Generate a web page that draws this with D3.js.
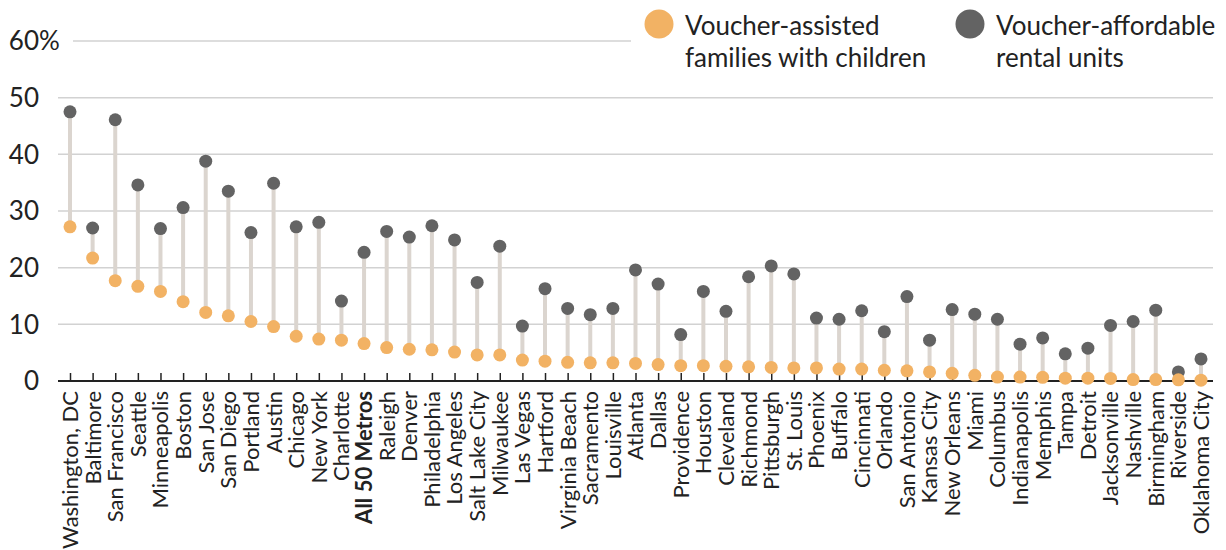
<!DOCTYPE html>
<html>
<head>
<meta charset="utf-8">
<script src="https://cdn.jsdelivr.net/npm/d3@7"></script>
<style>
  body { margin: 0; background: #fff; }
  text { font-family: Lato, "Open Sans", sans-serif; fill: #222; }
</style>
</head>
<body>
<div id="main"></div>
<script>
var metros = ["Washington, DC", "Baltimore", "San Francisco", "Seattle", "Minneapolis", "Boston", "San Jose", "San Diego",
  "Portland", "Austin", "Chicago", "New York", "Charlotte", "All 50 Metros", "Raleigh", "Denver", "Philadelphia",
  "Los Angeles", "Salt Lake City", "Milwaukee", "Las Vegas", "Hartford", "Virginia Beach", "Sacramento", "Louisville",
  "Atlanta", "Dallas", "Providence", "Houston", "Cleveland", "Richmond", "Pittsburgh", "St. Louis", "Phoenix", "Buffalo",
  "Cincinnati", "Orlando", "San Antonio", "Kansas City", "New Orleans", "Miami", "Columbus", "Indianapolis", "Memphis",
  "Tampa", "Detroit", "Jacksonville", "Nashville", "Birmingham", "Riverside", "Oklahoma City"];
var families = [27.2, 21.7, 17.7, 16.7, 15.8, 14.0, 12.1, 11.5, 10.5, 9.6, 7.9, 7.4, 7.2, 6.6, 5.9, 5.6, 5.5,
  5.1, 4.6, 4.6, 3.7, 3.5, 3.3, 3.2, 3.2, 3.1, 2.9, 2.7, 2.7, 2.6, 2.5, 2.4, 2.3, 2.3, 2.1,
  2.1, 1.9, 1.8, 1.6, 1.35, 1.0, 0.7, 0.7, 0.65, 0.5, 0.5, 0.45, 0.25, 0.25, 0.2, 0.15];
var units = [47.5, 27.0, 46.1, 34.6, 26.9, 30.6, 38.8, 33.5, 26.2, 34.9, 27.2, 28.0, 14.1, 22.7, 26.4, 25.4, 27.4,
  24.9, 17.4, 23.8, 9.7, 16.3, 12.8, 11.7, 12.8, 19.6, 17.1, 8.2, 15.8, 12.3, 18.4, 20.3, 18.9, 11.1, 10.9,
  12.4, 8.7, 14.9, 7.2, 12.6, 11.8, 10.9, 6.5, 7.6, 4.8, 5.8, 9.8, 10.5, 12.5, 1.6, 3.9];
var yTicks = [0, 10, 20, 30, 40, 50, 60];
var legendItems = [["Voucher-assisted", "families with children"], ["Voucher-affordable", "rental units"]];

var data = metros.map(function(d, i) { return {name: d, fam: families[i], units: units[i]}; });
var orange = "#f2b264", grey = "#636363";

var svg = d3.select("#main").append("svg")
  .attr("width", 1226)
  .attr("height", 550);

var x = d3.scalePoint().domain(metros).range([70, 1201]);
var y = d3.scaleLinear().domain([0, 60]).range([381, 41]);

// gridlines
svg.append("g").selectAll("line").data(yTicks.filter(function(t) { return t > 0; })).enter().append("line")
  .attr("x1", function(t) { return t == 60 ? 73 : 58; })
  .attr("x2", function(t) { return t == 60 ? 631 : 1213; })
  .attr("y1", y).attr("y2", y)
  .attr("stroke", "#d2d2d2")
  .attr("stroke-width", 1.5);

// y labels
svg.append("g").selectAll("text").data(yTicks).enter().append("text")
  .attr("x", 39)
  .attr("y", y)
  .attr("dy", "0.36em")
  .attr("text-anchor", "end")
  .style("font-size", "26px")
  .text(function(t) { return t; });
svg.append("text")
  .attr("x", 39)
  .attr("y", y(60))
  .attr("dy", "0.36em")
  .style("font-size", "26px")
  .text("%");

// baseline axis with ticks pointing up
var xAxis = d3.axisTop(x).tickSize(8).tickFormat("");
var axisG = svg.append("g")
  .attr("transform", "translate(0," + y(0) + ")")
  .call(xAxis);
axisG.select(".domain").remove();
axisG.selectAll(".tick line").attr("stroke", "#222").attr("stroke-width", 1.5);
svg.append("line")
  .attr("x1", 58).attr("x2", 1213)
  .attr("y1", y(0)).attr("y2", y(0))
  .attr("stroke", "#222")
  .attr("stroke-width", 2);

// metro labels
svg.append("g").selectAll("text").data(data).enter().append("text")
  .attr("transform", function(d) { return "translate(" + x(d.name) + ",391) rotate(-90)"; })
  .attr("dy", "0.36em")
  .attr("text-anchor", "end")
  .style("font-size", "22px")
  .style("font-weight", function(d) { return d.name == "All 50 Metros" ? "bold" : null; })
  .text(function(d) { return d.name; });

// stems
svg.append("g").selectAll("line").data(data).enter().append("line")
  .attr("x1", function(d) { return x(d.name); })
  .attr("x2", function(d) { return x(d.name); })
  .attr("y1", function(d) { return y(d.fam); })
  .attr("y2", function(d) { return y(d.units); })
  .attr("stroke", "#dbd5cf")
  .attr("stroke-width", 4);

// dots
svg.append("g").selectAll("circle").data(data).enter().append("circle")
  .attr("cx", function(d) { return x(d.name); })
  .attr("cy", function(d) { return y(d.units); })
  .attr("r", 6.5)
  .attr("fill", grey);
svg.append("g").selectAll("circle").data(data).enter().append("circle")
  .attr("cx", function(d) { return x(d.name); })
  .attr("cy", function(d) { return y(d.fam); })
  .attr("r", 6.5)
  .attr("fill", orange);

// legend
var legend = svg.selectAll(".legend").data(legendItems).enter().append("g")
  .attr("class", "legend")
  .attr("transform", function(d, i) { return "translate(" + [659, 970][i] + ",24)"; });
legend.append("circle")
  .attr("r", 14.5)
  .attr("fill", function(d, i) { return i == 0 ? orange : grey; });
legend.append("text")
  .attr("x", 26)
  .attr("y", 11)
  .style("font-size", "26px")
  .selectAll("tspan").data(function(d) { return d; }).enter().append("tspan")
  .attr("x", 26)
  .attr("dy", function(d, i) { return i == 0 ? 0 : 32; })
  .text(function(d) { return d; });
</script>
</body>
</html>
